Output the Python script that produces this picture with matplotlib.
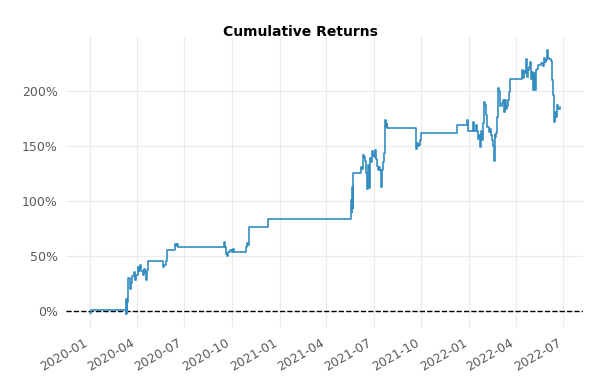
import matplotlib
matplotlib.use("Agg")
import matplotlib.pyplot as plt
import matplotlib.dates as mdates
from matplotlib.ticker import FuncFormatter
import pandas as pd

dates = [
    "2020-01-01", "2020-01-03", "2020-03-10", "2020-03-11", "2020-03-12", "2020-03-13",
    "2020-03-14", "2020-03-16", "2020-03-18", "2020-03-20", "2020-03-22", "2020-03-26",
    "2020-03-28", "2020-03-30", "2020-04-03", "2020-04-05", "2020-04-06", "2020-04-08",
    "2020-04-10", "2020-04-12", "2020-04-14", "2020-04-16", "2020-04-18", "2020-04-20",
    "2020-04-22", "2020-05-21", "2020-05-23", "2020-05-27", "2020-05-29", "2020-05-30",
    "2020-06-13", "2020-06-15", "2020-06-17", "2020-06-19", "2020-09-15", "2020-09-16",
    "2020-09-17", "2020-09-19", "2020-09-21", "2020-09-23", "2020-09-27", "2020-10-01",
    "2020-10-03", "2020-10-05", "2020-10-28", "2020-10-30", "2020-11-01", "2020-11-03",
    "2020-12-10", "2021-05-18", "2021-05-19", "2021-05-20", "2021-05-21", "2021-05-22",
    "2021-05-23", "2021-06-07", "2021-06-09", "2021-06-11", "2021-06-13", "2021-06-15",
    "2021-06-17", "2021-06-19", "2021-06-20", "2021-06-22", "2021-06-24", "2021-06-26",
    "2021-06-28", "2021-06-30", "2021-07-02", "2021-07-04", "2021-07-06", "2021-07-08",
    "2021-07-10", "2021-07-12", "2021-07-14", "2021-07-16", "2021-07-17", "2021-07-19",
    "2021-07-21", "2021-07-23", "2021-07-25", "2021-07-26", "2021-07-27", "2021-09-21",
    "2021-09-23", "2021-09-25", "2021-09-27", "2021-09-29", "2021-10-01", "2021-12-09",
    "2021-12-27", "2021-12-29", "2022-01-09", "2022-01-11", "2022-01-13", "2022-01-15",
    "2022-01-17", "2022-01-19", "2022-01-21", "2022-01-23", "2022-01-25", "2022-01-27",
    "2022-01-28", "2022-01-30", "2022-02-01", "2022-02-03", "2022-02-05", "2022-02-07",
    "2022-02-09", "2022-02-11", "2022-02-13", "2022-02-15", "2022-02-17", "2022-02-19",
    "2022-02-20", "2022-02-22", "2022-02-24", "2022-02-26", "2022-02-28", "2022-03-02",
    "2022-03-04", "2022-03-06", "2022-03-08", "2022-03-10", "2022-03-12", "2022-03-14",
    "2022-03-16", "2022-03-17", "2022-03-19", "2022-03-21", "2022-04-12", "2022-04-14",
    "2022-04-16", "2022-04-18", "2022-04-20", "2022-04-22", "2022-04-24", "2022-04-26",
    "2022-04-28", "2022-04-30", "2022-05-01", "2022-05-03", "2022-05-05", "2022-05-07",
    "2022-05-09", "2022-05-11", "2022-05-13", "2022-05-19", "2022-05-22", "2022-05-24",
    "2022-05-26", "2022-05-28", "2022-05-30", "2022-06-01", "2022-06-03", "2022-06-07",
    "2022-06-09", "2022-06-11", "2022-06-13", "2022-06-15", "2022-06-17", "2022-06-18",
    "2022-06-20", "2022-06-24",
]
cum_returns_pct = [
    -1.5, 1, 1, -3, 11, -2,
    8, 30, 20, 25, 32, 35,
    28, 33, 40, 36, 38, 42,
    36, 33, 38, 35, 28, 37,
    45.5, 40, 42, 45, 47, 55,
    61, 59, 61, 58, 61, 63,
    58, 52, 50, 54, 55, 54,
    56, 54, 58, 62, 60, 76,
    84, 95, 101, 90, 113, 94,
    125.7, 131, 129, 142, 140, 136,
    125, 111, 133, 112, 139, 135,
    145, 142, 140, 146, 138, 132,
    128, 131, 128, 113, 128, 135,
    144, 174, 167, 170, 166, 147,
    153, 150, 151, 155, 162, 169,
    174, 164, 172, 164, 169, 164,
    156, 160, 149, 164, 155, 162,
    171, 190, 187, 178, 167, 163,
    165, 160, 155, 150, 136, 160,
    158, 162, 176, 203, 200, 186,
    189, 192, 181, 192, 184, 186,
    189, 192, 199, 211, 219, 212,
    218, 216, 229, 213, 219, 222,
    226, 211, 217, 201, 216, 201,
    219, 220, 224, 225, 223, 230,
    226, 228, 237, 230, 229, 227,
    210, 196, 172, 181, 176, 187,
    184, 185,
]

yticks_pct = [0, 50, 100, 150, 200]

x = pd.to_datetime(dates)
y = [v / 100.0 for v in cum_returns_pct]

fig = plt.figure(figsize=(6, 3.9), dpi=100)
ax = fig.add_axes([0.11, 0.159, 0.862, 0.745])

ax.plot(x, y, color="#348DC1", lw=1.2, drawstyle="steps-post", zorder=3)
ax.axhline(0, ls="--", lw=1, color="black", zorder=2)

ax.set_yticks([t / 100.0 for t in yticks_pct])
ax.yaxis.set_major_formatter(FuncFormatter(lambda v, p: f"{v*100:.0f}%"))
ax.xaxis.set_major_locator(mdates.MonthLocator(bymonth=[1, 4, 7, 10]))
ax.xaxis.set_major_formatter(mdates.DateFormatter("%Y-%m"))
ax.set_ylim(-0.155, 2.486)

for s in ax.spines.values():
    s.set_visible(False)
ax.grid(True, color="#ebebeb", lw=0.8)
ax.set_axisbelow(True)
ax.tick_params(axis="both", length=0, labelsize=9, labelcolor="#5a5a5a", pad=6)
for lbl in ax.get_xticklabels():
    lbl.set_rotation(30)
    lbl.set_ha("right")

fig.suptitle("Cumulative Returns", fontsize=10, fontweight="bold", y=0.937)

fig.savefig("out.png", dpi=100)
